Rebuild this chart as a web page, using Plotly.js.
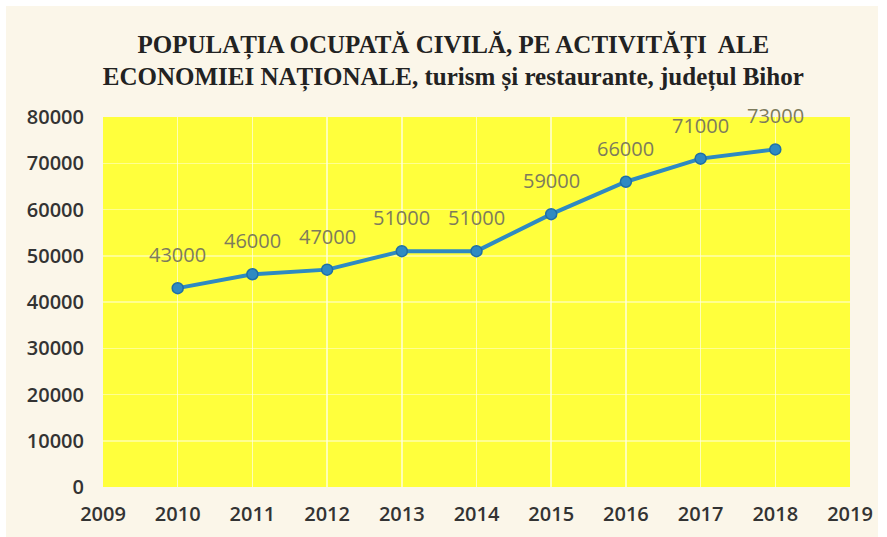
<!DOCTYPE html>
<html><head><meta charset="utf-8">
<script src="https://cdn.plot.ly/plotly-3.0.1.min.js"></script>
<style>html,body{margin:0;padding:0;background:#ffffff;}#chart{position:absolute;left:6px;top:6px;width:872px;height:531px;}</style>
</head><body><div id="chart"></div>
<script>
const years = [2010, 2011, 2012, 2013, 2014, 2015, 2016, 2017, 2018];
const employed = [43000, 46000, 47000, 51000, 51000, 59000, 66000, 71000, 73000];
const xTicks = [2009, 2010, 2011, 2012, 2013, 2014, 2015, 2016, 2017, 2018, 2019];
const yTicks = [0, 10000, 20000, 30000, 40000, 50000, 60000, 70000, 80000];
const titleLines = ['POPULAȚIA OCUPATĂ CIVILĂ, PE ACTIVITĂȚI  ALE', 'ECONOMIEI NAȚIONALE, turism și restaurante, județul Bihor'];

const trace = {
  x: years, y: employed, type: 'scatter', mode: 'lines+markers',
  line: {color: '#2e8ac2', width: 4},
  marker: {color: '#2e8ac2', size: 11, line: {color: '#1f6fa6', width: 1.5}},
  hoverinfo: 'x+y'
};

const annotations = years.map((yr, i) => ({
  x: yr, y: employed[i], xref: 'x', yref: 'y',
  text: String(employed[i]), showarrow: false,
  yanchor: 'bottom', yshift: 18,
  font: {family: '"Open Sans", sans-serif', size: 20, color: '#7d7b5c'}
}));

const layout = {
  width: 872, height: 531,
  paper_bgcolor: '#fbf6e9', plot_bgcolor: '#ffff3c',
  margin: {l: 97, r: 28, t: 111, b: 50},
  showlegend: false,
  title: {
    text: '<b>' + titleLines.join('<br>') + '</b>',
    font: {family: '"Liberation Serif", "Times New Roman", serif', size: 25, color: '#222222'},
    x: 0.513, xanchor: 'center', y: 0.912, yanchor: 'top'
  },
  xaxis: {
    range: [2009, 2019], tickvals: xTicks, ticktext: xTicks.map(String),
    showgrid: true, gridcolor: 'rgba(255,255,230,0.7)', gridwidth: 1.5,
    zeroline: false, showline: false, ticks: '', ticklabelstandoff: 13,
    tickfont: {family: '"Open Sans", sans-serif', size: 20, weight: 600, color: '#333333'}, fixedrange: true
  },
  yaxis: {
    range: [0, 80000], tickvals: yTicks, ticktext: yTicks.map(String),
    showgrid: true, gridcolor: 'rgba(255,255,230,0.5)', gridwidth: 1.5,
    zeroline: false, showline: false, ticks: '', ticklabelstandoff: 18,
    tickfont: {family: '"Open Sans", sans-serif', size: 20, weight: 600, color: '#333333'}, fixedrange: true
  },
  annotations: annotations
};

Plotly.newPlot('chart', [trace], layout, {displayModeBar: false, staticPlot: true});
</script></body></html>
